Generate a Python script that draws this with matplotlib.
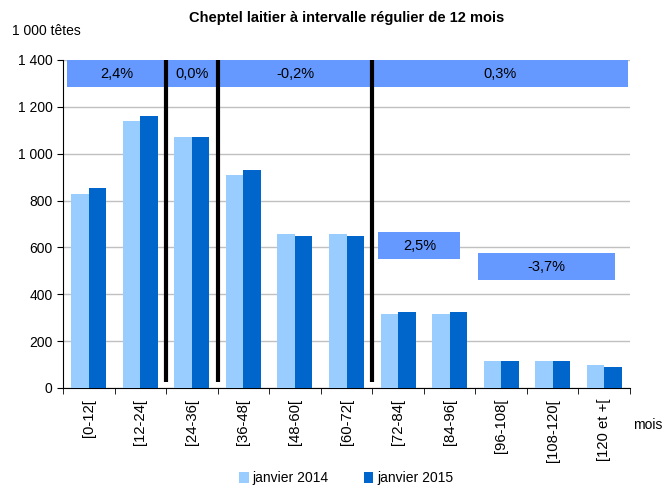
import matplotlib
matplotlib.use("Agg")
import matplotlib.pyplot as plt
import numpy as np

plt.rcParams['font.family'] = ['Liberation Sans', 'DejaVu Sans']

categories = ["[0-12[", "[12-24[", "[24-36[", "[36-48[", "[48-60[", "[60-72[",
              "[72-84[", "[84-96[", "[96-108[", "[108-120[", "[120 et +["]
jan2014 = [828, 1140, 1070, 909, 657, 657, 316, 316, 115, 115, 98]
jan2015 = [853, 1161, 1070, 930, 649, 649, 324, 324, 115, 115, 90]

# top band segments
band_labels = ["2,4%", "0,0%", "-0,2%", "0,3%"]
band_edges = [-0.42, 1.5, 2.5, 5.5, 10.47]
separators = [1.5, 2.5, 5.5]
# lower boxes
box_labels = ["2,5%", "-3,7%"]
box_x = [(5.62, 7.21), (7.56, 10.2)]
box_y = [(550, 666), (461, 576)]

c14 = "#99CCFF"
c15 = "#0066CC"
cband = "#6699FF"

fig = plt.figure(figsize=(6.66, 4.87), dpi=100)
ax = fig.add_axes([0.0946, 0.2033, 0.8514, 0.6735])

x = np.arange(len(categories))
w = 0.34
ax.bar(x - w/2, jan2014, width=w, color=c14, label="janvier 2014", zorder=3)
ax.bar(x + w/2, jan2015, width=w, color=c15, label="janvier 2015", zorder=3)

ax.set_xlim(-0.5, len(categories) - 0.5)
ax.set_ylim(0, 1400)
ax.set_yticks(np.arange(0, 1401, 200))
ax.set_yticklabels([f"{v:,}".replace(",", " ") for v in range(0, 1401, 200)], fontsize=10)
ax.yaxis.grid(True, color="#C0C0C0", linewidth=1, zorder=0)
ax.set_axisbelow(True)

ax.set_xticks(x)
ax.set_xticklabels(categories, rotation=90, fontsize=10.7)
ax.tick_params(axis='x', which='major', length=0, pad=8)
ax.set_xticks(np.arange(-0.5, len(categories), 1), minor=True)
ax.tick_params(axis='x', which='minor', length=4, direction='out', color='black')
ax.tick_params(axis='y', length=4, direction='out')

for s in ['top', 'right']:
    ax.spines[s].set_visible(False)

# top band
ax.fill_between([band_edges[0], band_edges[-1]], 1285, 1400, color=cband, zorder=4, linewidth=0)
for i, lab in enumerate(band_labels):
    cx = (band_edges[i] + band_edges[i + 1]) / 2
    ax.text(cx, 1342, lab, ha='center', va='center', fontsize=10.5, zorder=6)
for s in separators:
    ax.plot([s, s], [25, 1400], color='black', linewidth=3, zorder=5, solid_capstyle='butt')

for (x0, x1), (y0, y1), lab in zip(box_x, box_y, box_labels):
    ax.fill_between([x0, x1], y0, y1, color=cband, zorder=4, linewidth=0)
    ax.text((x0 + x1) / 2, (y0 + y1) / 2, lab, ha='center', va='center', fontsize=10.5, zorder=6)

fig.text(0.52, 0.963, "Cheptel laitier à intervalle régulier de 12 mois",
         ha='center', va='center', fontsize=10.5, fontweight='bold')
fig.text(0.018, 0.937, "1 000 têtes", ha='left', va='center', fontsize=10)
fig.text(0.95, 0.127, "mois", ha='left', va='center', fontsize=10)

fig.legend(loc='center', bbox_to_anchor=(0.52, 0.018), ncol=2, frameon=False,
           fontsize=10, handlelength=0.7, handleheight=0.9, handletextpad=0.3,
           columnspacing=2.5, borderpad=0)

fig.savefig("out.png", dpi=100)
